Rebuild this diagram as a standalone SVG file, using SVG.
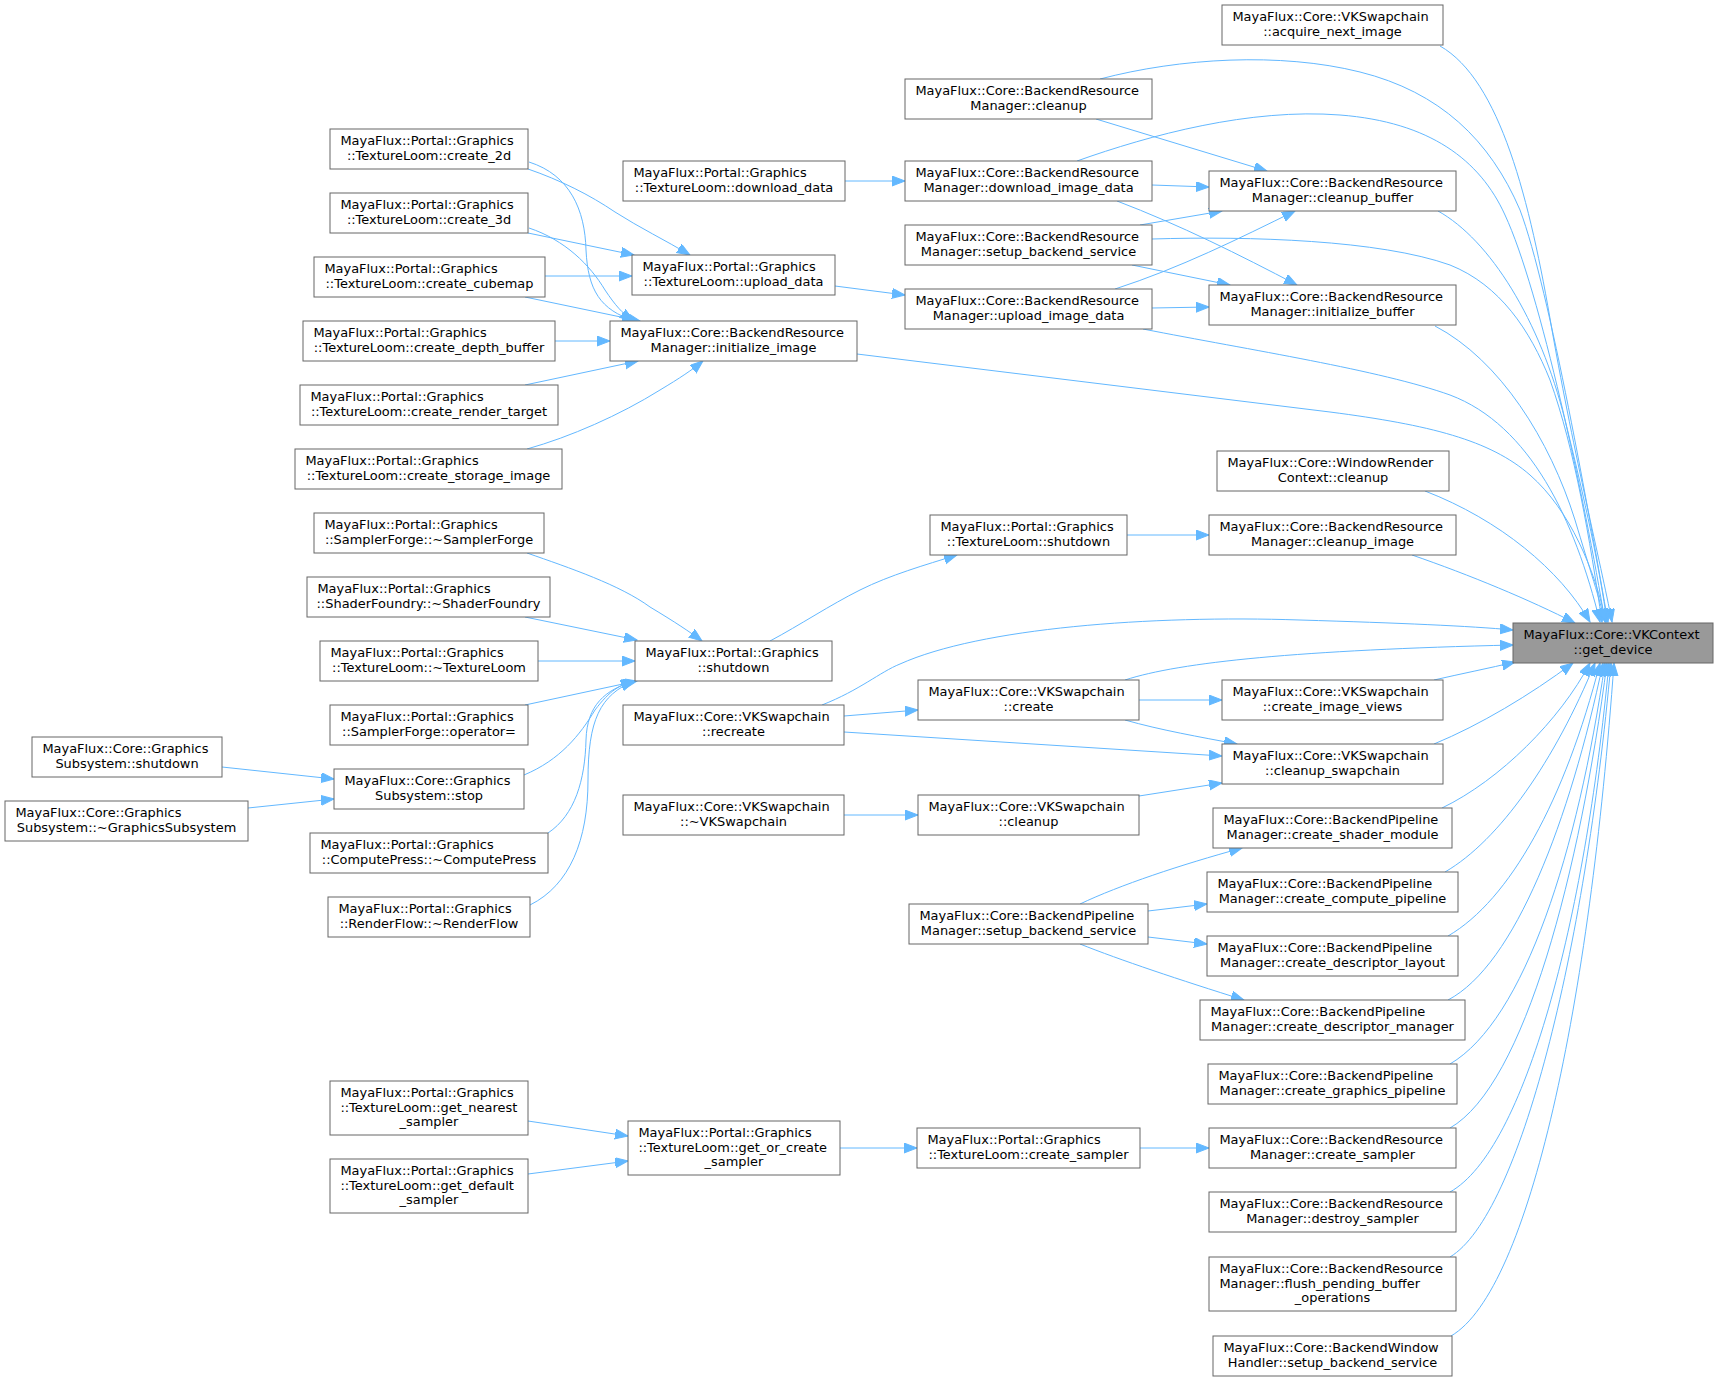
<svg xmlns="http://www.w3.org/2000/svg" width="1719" height="1381" viewBox="0 0 1719 1381">
<defs>
<marker id="a" markerWidth="14" markerHeight="11" refX="13" refY="5" orient="auto" markerUnits="userSpaceOnUse"><path d="M0,0 L13,5 L0,10 z" fill="#63b8ff" stroke="#63b8ff" stroke-width="1"/></marker>
<style>
.n rect{fill:#ffffff;stroke:#666666;stroke-width:1}
.g rect{fill:#999999;stroke:#666666;stroke-width:1}
text{font-family:"DejaVu Sans","Liberation Sans",sans-serif;font-size:12.95px;fill:#000000}
.c{text-anchor:middle}
#edges path{fill:none;stroke:#63b8ff;stroke-width:1;marker-end:url(#a)}
</style>
</defs>
<rect x="0" y="0" width="1719" height="1381" fill="#ffffff"/>
<g id="edges">
<path d="M1440,46 C1500,80 1530,200 1552,330 C1575,460 1600,560 1612,622"/>
<path d="M1100,79 C1180,58 1280,52 1360,72 C1440,92 1490,140 1520,210 C1550,290 1590,520 1608,622"/>
<path d="M1077,161 C1150,135 1250,108 1340,115 C1430,122 1480,160 1505,215 C1540,290 1585,500 1605,622"/>
<path d="M1152,239 C1250,236 1380,240 1450,265 C1500,285 1530,330 1550,380 C1575,450 1590,540 1602,622"/>
<path d="M1143,329 C1250,350 1380,370 1450,395 C1530,425 1575,520 1600,622"/>
<path d="M857,354 L1330,412 C1430,425 1490,440 1530,475 C1570,510 1595,570 1606,622"/>
<path d="M1438,211 C1490,240 1540,320 1565,420 C1585,500 1600,570 1607,622"/>
<path d="M1435,326 C1500,360 1550,440 1575,520 C1590,570 1600,600 1605,622"/>
<path d="M1425,491 C1500,520 1560,570 1590,622"/>
<path d="M1412,555 C1470,575 1530,600 1575,623"/>
<path d="M822,705 C860,690 880,672 900,664 C980,628 1150,615 1300,620 C1400,623 1470,626 1513,630"/>
<path d="M1125,680 C1180,662 1300,650 1513,645"/>
<path d="M1434,680 C1460,674 1490,668 1515,662"/>
<path d="M1434,744 C1480,725 1530,695 1573,663"/>
<path d="M1442,808 C1500,780 1560,720 1590,663"/>
<path d="M1445,872 C1500,840 1555,760 1595,663"/>
<path d="M1448,936 C1510,900 1565,800 1600,663"/>
<path d="M1448,1000 C1515,965 1570,820 1603,663"/>
<path d="M1450,1064 C1525,1020 1578,850 1605,663"/>
<path d="M1450,1128 C1525,1085 1580,870 1607,663"/>
<path d="M1450,1192 C1525,1150 1585,920 1609,663"/>
<path d="M1450,1257 C1520,1215 1585,950 1611,663"/>
<path d="M1451,1336 C1530,1290 1590,1000 1614,663"/>
<path d="M1096,119 L1267,171"/>
<path d="M1152,185 L1209,187"/>
<path d="M1140,225 L1222,211"/>
<path d="M1115,289 C1180,268 1240,238 1295,211"/>
<path d="M1117,201 C1180,225 1240,255 1297,285"/>
<path d="M1132,265 L1230,285"/>
<path d="M1152,308 L1209,307"/>
<path d="M845,181 L905,181"/>
<path d="M835,286 L905,295"/>
<path d="M528,169 C560,180 590,195 615,212 C640,228 665,240 690,255"/>
<path d="M528,233 L634,255"/>
<path d="M545,276 L632,276"/>
<path d="M529,162 C570,175 585,210 586,250 C588,290 600,310 635,321"/>
<path d="M529,228 C565,240 590,265 605,290 C615,305 622,313 633,321"/>
<path d="M525,297 L640,321"/>
<path d="M555,341 L610,341"/>
<path d="M525,385 L638,361"/>
<path d="M527,449 C570,437 620,415 660,390 C680,378 692,370 703,361"/>
<path d="M770,641 C800,625 830,605 860,590 C890,575 925,565 957,555"/>
<path d="M1127,535 L1209,535"/>
<path d="M527,553 C570,568 620,585 650,607 C675,622 690,632 702,641"/>
<path d="M525,617 L637,640"/>
<path d="M538,661 L635,661"/>
<path d="M525,705 L637,681"/>
<path d="M524,775 C560,760 580,735 595,710 C610,690 620,685 634,681"/>
<path d="M548,833 C575,815 585,780 586,740 C587,705 605,690 634,681"/>
<path d="M530,905 C570,885 588,840 588,780 C588,720 600,695 634,681"/>
<path d="M222,767 L334,779"/>
<path d="M248,808 L334,799"/>
<path d="M844,716 L918,710"/>
<path d="M1139,700 L1222,700"/>
<path d="M1125,720 C1160,730 1200,737 1237,744"/>
<path d="M844,732 L1222,756"/>
<path d="M844,815 L918,815"/>
<path d="M1139,796 L1222,783"/>
<path d="M1080,904 C1120,885 1180,865 1242,848"/>
<path d="M1148,911 L1207,904"/>
<path d="M1148,937 L1207,944"/>
<path d="M1080,944 C1120,960 1180,980 1244,1000"/>
<path d="M528,1121 L628,1136"/>
<path d="M528,1174 L628,1161"/>
<path d="M840,1148 L917,1148"/>
<path d="M1140,1148 L1209,1148"/>
</g>
<g id="acq" class="n"><rect x="1222" y="5" width="221" height="40"/><text x="1232.4" y="21.3">MayaFlux::Core::VKSwapchain</text><text class="c" x="1332.5" y="35.7">::acquire_next_image</text></g>
<g id="cbuf" class="n"><rect x="1209" y="171" width="247" height="40"/><text x="1219.4" y="187.3">MayaFlux::Core::BackendResource</text><text class="c" x="1332.5" y="201.7">Manager::cleanup_buffer</text></g>
<g id="ibuf" class="n"><rect x="1209" y="285" width="247" height="40"/><text x="1219.4" y="301.3">MayaFlux::Core::BackendResource</text><text class="c" x="1332.5" y="315.7">Manager::initialize_buffer</text></g>
<g id="wrc" class="n"><rect x="1217" y="451" width="232" height="40"/><text x="1227.4" y="467.3">MayaFlux::Core::WindowRender</text><text class="c" x="1333" y="481.7">Context::cleanup</text></g>
<g id="cimg" class="n"><rect x="1209" y="515" width="247" height="40"/><text x="1219.4" y="531.3">MayaFlux::Core::BackendResource</text><text class="c" x="1332.5" y="545.7">Manager::cleanup_image</text></g>
<g id="gd" class="g"><rect x="1513" y="623" width="200" height="40"/><text x="1523.4" y="639.3">MayaFlux::Core::VKContext</text><text class="c" x="1613" y="653.7">::get_device</text></g>
<g id="civ" class="n"><rect x="1222" y="680" width="221" height="40"/><text x="1232.4" y="696.3">MayaFlux::Core::VKSwapchain</text><text class="c" x="1332.5" y="710.7">::create_image_views</text></g>
<g id="csw" class="n"><rect x="1222" y="744" width="221" height="40"/><text x="1232.4" y="760.3">MayaFlux::Core::VKSwapchain</text><text class="c" x="1332.5" y="774.7">::cleanup_swapchain</text></g>
<g id="csm" class="n"><rect x="1213" y="808" width="239" height="40"/><text x="1223.4" y="824.3">MayaFlux::Core::BackendPipeline</text><text class="c" x="1332.5" y="838.7">Manager::create_shader_module</text></g>
<g id="ccp" class="n"><rect x="1207" y="872" width="251" height="40"/><text x="1217.4" y="888.3">MayaFlux::Core::BackendPipeline</text><text class="c" x="1332.5" y="902.7">Manager::create_compute_pipeline</text></g>
<g id="cdl" class="n"><rect x="1207" y="936" width="251" height="40"/><text x="1217.4" y="952.3">MayaFlux::Core::BackendPipeline</text><text class="c" x="1332.5" y="966.7">Manager::create_descriptor_layout</text></g>
<g id="cdm" class="n"><rect x="1200" y="1000" width="265" height="40"/><text x="1210.4" y="1016.3">MayaFlux::Core::BackendPipeline</text><text class="c" x="1332.5" y="1030.7">Manager::create_descriptor_manager</text></g>
<g id="cgp" class="n"><rect x="1208" y="1064" width="249" height="40"/><text x="1218.4" y="1080.3">MayaFlux::Core::BackendPipeline</text><text class="c" x="1332.5" y="1094.7">Manager::create_graphics_pipeline</text></g>
<g id="cs" class="n"><rect x="1209" y="1128" width="247" height="40"/><text x="1219.4" y="1144.3">MayaFlux::Core::BackendResource</text><text class="c" x="1332.5" y="1158.7">Manager::create_sampler</text></g>
<g id="ds" class="n"><rect x="1209" y="1192" width="247" height="40"/><text x="1219.4" y="1208.3">MayaFlux::Core::BackendResource</text><text class="c" x="1332.5" y="1222.7">Manager::destroy_sampler</text></g>
<g id="fl" class="n"><rect x="1209" y="1257" width="247" height="54"/><text x="1219.4" y="1273.3">MayaFlux::Core::BackendResource</text><text x="1219.4" y="1287.7">Manager::flush_pending_buffer</text><text class="c" x="1332.5" y="1302.1">_operations</text></g>
<g id="bwh" class="n"><rect x="1213" y="1336" width="239" height="40"/><text x="1223.4" y="1352.3">MayaFlux::Core::BackendWindow</text><text class="c" x="1332.5" y="1366.7">Handler::setup_backend_service</text></g>
<g id="clean" class="n"><rect x="905" y="79" width="247" height="40"/><text x="915.4" y="95.3">MayaFlux::Core::BackendResource</text><text class="c" x="1028.5" y="109.7">Manager::cleanup</text></g>
<g id="did" class="n"><rect x="905" y="161" width="247" height="40"/><text x="915.4" y="177.3">MayaFlux::Core::BackendResource</text><text class="c" x="1028.5" y="191.7">Manager::download_image_data</text></g>
<g id="sbs" class="n"><rect x="905" y="225" width="247" height="40"/><text x="915.4" y="241.3">MayaFlux::Core::BackendResource</text><text class="c" x="1028.5" y="255.7">Manager::setup_backend_service</text></g>
<g id="uid" class="n"><rect x="905" y="289" width="247" height="40"/><text x="915.4" y="305.3">MayaFlux::Core::BackendResource</text><text class="c" x="1028.5" y="319.7">Manager::upload_image_data</text></g>
<g id="tls" class="n"><rect x="930" y="515" width="197" height="40"/><text x="940.4" y="531.3">MayaFlux::Portal::Graphics</text><text class="c" x="1028.5" y="545.7">::TextureLoom::shutdown</text></g>
<g id="vkc" class="n"><rect x="918" y="680" width="221" height="40"/><text x="928.4" y="696.3">MayaFlux::Core::VKSwapchain</text><text class="c" x="1028.5" y="710.7">::create</text></g>
<g id="vkcl" class="n"><rect x="918" y="795" width="221" height="40"/><text x="928.4" y="811.3">MayaFlux::Core::VKSwapchain</text><text class="c" x="1028.5" y="825.7">::cleanup</text></g>
<g id="bps" class="n"><rect x="909" y="904" width="239" height="40"/><text x="919.4" y="920.3">MayaFlux::Core::BackendPipeline</text><text class="c" x="1028.5" y="934.7">Manager::setup_backend_service</text></g>
<g id="tlcs" class="n"><rect x="917" y="1128" width="223" height="40"/><text x="927.4" y="1144.3">MayaFlux::Portal::Graphics</text><text class="c" x="1028.5" y="1158.7">::TextureLoom::create_sampler</text></g>
<g id="dd" class="n"><rect x="623" y="161" width="222" height="40"/><text x="633.4" y="177.3">MayaFlux::Portal::Graphics</text><text class="c" x="734" y="191.7">::TextureLoom::download_data</text></g>
<g id="ud" class="n"><rect x="632" y="255" width="203" height="40"/><text x="642.4" y="271.3">MayaFlux::Portal::Graphics</text><text class="c" x="733.5" y="285.7">::TextureLoom::upload_data</text></g>
<g id="ii" class="n"><rect x="610" y="321" width="247" height="40"/><text x="620.4" y="337.3">MayaFlux::Core::BackendResource</text><text class="c" x="733.5" y="351.7">Manager::initialize_image</text></g>
<g id="gs" class="n"><rect x="635" y="641" width="197" height="40"/><text x="645.4" y="657.3">MayaFlux::Portal::Graphics</text><text class="c" x="733.5" y="671.7">::shutdown</text></g>
<g id="rec" class="n"><rect x="623" y="705" width="221" height="40"/><text x="633.4" y="721.3">MayaFlux::Core::VKSwapchain</text><text class="c" x="733.5" y="735.7">::recreate</text></g>
<g id="vkd" class="n"><rect x="623" y="795" width="221" height="40"/><text x="633.4" y="811.3">MayaFlux::Core::VKSwapchain</text><text class="c" x="733.5" y="825.7">::~VKSwapchain</text></g>
<g id="goc" class="n"><rect x="628" y="1121" width="212" height="54"/><text x="638.4" y="1137.3">MayaFlux::Portal::Graphics</text><text x="638.4" y="1151.7">::TextureLoom::get_or_create</text><text class="c" x="734" y="1166.1">_sampler</text></g>
<g id="c2d" class="n"><rect x="330" y="129" width="198" height="40"/><text x="340.4" y="145.3">MayaFlux::Portal::Graphics</text><text class="c" x="429" y="159.7">::TextureLoom::create_2d</text></g>
<g id="c3d" class="n"><rect x="330" y="193" width="198" height="40"/><text x="340.4" y="209.3">MayaFlux::Portal::Graphics</text><text class="c" x="429" y="223.7">::TextureLoom::create_3d</text></g>
<g id="ccm" class="n"><rect x="314" y="257" width="231" height="40"/><text x="324.4" y="273.3">MayaFlux::Portal::Graphics</text><text class="c" x="429.5" y="287.7">::TextureLoom::create_cubemap</text></g>
<g id="cdb" class="n"><rect x="303" y="321" width="252" height="40"/><text x="313.4" y="337.3">MayaFlux::Portal::Graphics</text><text class="c" x="429" y="351.7">::TextureLoom::create_depth_buffer</text></g>
<g id="crt" class="n"><rect x="300" y="385" width="258" height="40"/><text x="310.4" y="401.3">MayaFlux::Portal::Graphics</text><text class="c" x="429" y="415.7">::TextureLoom::create_render_target</text></g>
<g id="csi" class="n"><rect x="295" y="449" width="267" height="40"/><text x="305.4" y="465.3">MayaFlux::Portal::Graphics</text><text class="c" x="428.5" y="479.7">::TextureLoom::create_storage_image</text></g>
<g id="sf" class="n"><rect x="314" y="513" width="230" height="40"/><text x="324.4" y="529.3">MayaFlux::Portal::Graphics</text><text class="c" x="429" y="543.7">::SamplerForge::~SamplerForge</text></g>
<g id="shf" class="n"><rect x="307" y="577" width="243" height="40"/><text x="317.4" y="593.3">MayaFlux::Portal::Graphics</text><text class="c" x="428.5" y="607.7">::ShaderFoundry::~ShaderFoundry</text></g>
<g id="tl" class="n"><rect x="320" y="641" width="218" height="40"/><text x="330.4" y="657.3">MayaFlux::Portal::Graphics</text><text class="c" x="429" y="671.7">::TextureLoom::~TextureLoom</text></g>
<g id="op" class="n"><rect x="330" y="705" width="198" height="40"/><text x="340.4" y="721.3">MayaFlux::Portal::Graphics</text><text class="c" x="429" y="735.7">::SamplerForge::operator=</text></g>
<g id="stop" class="n"><rect x="334" y="769" width="190" height="40"/><text x="344.4" y="785.3">MayaFlux::Core::Graphics</text><text class="c" x="429" y="799.7">Subsystem::stop</text></g>
<g id="cp" class="n"><rect x="310" y="833" width="238" height="40"/><text x="320.4" y="849.3">MayaFlux::Portal::Graphics</text><text class="c" x="429" y="863.7">::ComputePress::~ComputePress</text></g>
<g id="rf" class="n"><rect x="328" y="897" width="202" height="40"/><text x="338.4" y="913.3">MayaFlux::Portal::Graphics</text><text class="c" x="429" y="927.7">::RenderFlow::~RenderFlow</text></g>
<g id="gn" class="n"><rect x="330" y="1081" width="198" height="54"/><text x="340.4" y="1097.3">MayaFlux::Portal::Graphics</text><text x="340.4" y="1111.7">::TextureLoom::get_nearest</text><text class="c" x="429" y="1126.1">_sampler</text></g>
<g id="gdf" class="n"><rect x="330" y="1159" width="198" height="54"/><text x="340.4" y="1175.3">MayaFlux::Portal::Graphics</text><text x="340.4" y="1189.7">::TextureLoom::get_default</text><text class="c" x="429" y="1204.1">_sampler</text></g>
<g id="gss" class="n"><rect x="32" y="737" width="190" height="40"/><text x="42.4" y="753.3">MayaFlux::Core::Graphics</text><text class="c" x="127" y="767.7">Subsystem::shutdown</text></g>
<g id="gsd" class="n"><rect x="5" y="801" width="243" height="40"/><text x="15.4" y="817.3">MayaFlux::Core::Graphics</text><text class="c" x="126.5" y="831.7">Subsystem::~GraphicsSubsystem</text></g>
</svg>
